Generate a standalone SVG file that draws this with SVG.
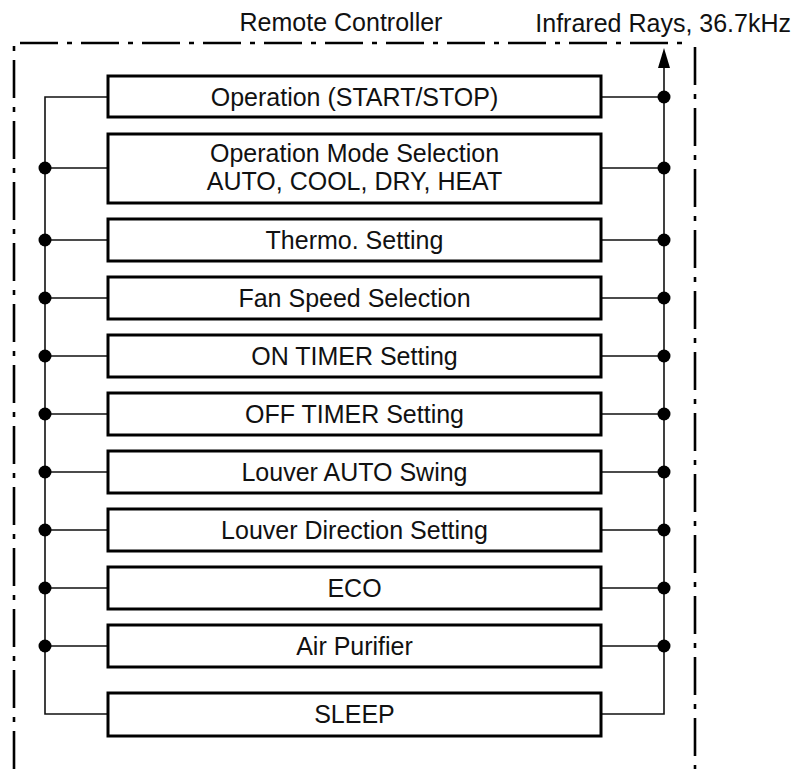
<svg xmlns="http://www.w3.org/2000/svg" width="800" height="769" viewBox="0 0 800 769">
<defs>
<style>
.box{fill:#fff;stroke:#000;stroke-width:3}
.lbl{font-family:"Liberation Sans",Arial,sans-serif;font-size:25px;fill:#111;text-anchor:middle}
.wire{fill:none;stroke:#111;stroke-width:1.6}
.dot{fill:#000}
.border{fill:none;stroke:#000;stroke-width:2.6;stroke-dasharray:38 9 5 9}
</style>
</defs>
<rect width="800" height="769" fill="#fff"/>
<g id="frame">
<path class="border" d="M14,769 V43 H691"/>
<path class="border" d="M695,47 V769"/>
<text class="lbl" x="341" y="31">Remote Controller</text>
<text class="lbl" x="791" y="32" style="text-anchor:end">Infrared Rays, 36.7kHz</text>
</g>
<g id="connectors">
<path class="wire" d="M108,97 H45 V714 H108"/>
<path class="wire" d="M601,714 H664 V68"/>
<path d="M664,48 L670,68 L658,68 Z" fill="#000"/>
<path class="wire" d="M601,97 H664 M45,168 H108 M601,168 H664 M45,240 H108 M601,240 H664 M45,298 H108 M601,298 H664 M45,356 H108 M601,356 H664 M45,414 H108 M601,414 H664 M45,472 H108 M601,472 H664 M45,530 H108 M601,530 H664 M45,588 H108 M601,588 H664 M45,646 H108 M601,646 H664"/>
<circle class="dot" cx="664" cy="97" r="6.5"/>
<circle class="dot" cx="45" cy="168" r="6.5"/><circle class="dot" cx="664" cy="168" r="6.5"/>
<circle class="dot" cx="45" cy="240" r="6.5"/><circle class="dot" cx="664" cy="240" r="6.5"/>
<circle class="dot" cx="45" cy="298" r="6.5"/><circle class="dot" cx="664" cy="298" r="6.5"/>
<circle class="dot" cx="45" cy="356" r="6.5"/><circle class="dot" cx="664" cy="356" r="6.5"/>
<circle class="dot" cx="45" cy="414" r="6.5"/><circle class="dot" cx="664" cy="414" r="6.5"/>
<circle class="dot" cx="45" cy="472" r="6.5"/><circle class="dot" cx="664" cy="472" r="6.5"/>
<circle class="dot" cx="45" cy="530" r="6.5"/><circle class="dot" cx="664" cy="530" r="6.5"/>
<circle class="dot" cx="45" cy="588" r="6.5"/><circle class="dot" cx="664" cy="588" r="6.5"/>
<circle class="dot" cx="45" cy="646" r="6.5"/><circle class="dot" cx="664" cy="646" r="6.5"/>
</g>
<g id="n1"><rect class="box" x="108" y="76" width="493" height="41"/><text class="lbl" x="354.5" y="105.5">Operation (START/STOP)</text></g>
<g id="n2"><rect class="box" x="108" y="134" width="493" height="69"/><text class="lbl" x="354.5" y="162">Operation Mode Selection</text><text class="lbl" x="354.5" y="190">AUTO, COOL, DRY, HEAT</text></g>
<g id="n3"><rect class="box" x="108" y="219" width="493" height="42"/><text class="lbl" x="354.5" y="249">Thermo. Setting</text></g>
<g id="n4"><rect class="box" x="108" y="277" width="493" height="42"/><text class="lbl" x="354.5" y="307">Fan Speed Selection</text></g>
<g id="n5"><rect class="box" x="108" y="335" width="493" height="42"/><text class="lbl" x="354.5" y="365">ON TIMER Setting</text></g>
<g id="n6"><rect class="box" x="108" y="393" width="493" height="42"/><text class="lbl" x="354.5" y="423">OFF TIMER Setting</text></g>
<g id="n7"><rect class="box" x="108" y="451" width="493" height="42"/><text class="lbl" x="354.5" y="481">Louver AUTO Swing</text></g>
<g id="n8"><rect class="box" x="108" y="509" width="493" height="42"/><text class="lbl" x="354.5" y="539">Louver Direction Setting</text></g>
<g id="n9"><rect class="box" x="108" y="567" width="493" height="42"/><text class="lbl" x="354.5" y="597">ECO</text></g>
<g id="n10"><rect class="box" x="108" y="625" width="493" height="42"/><text class="lbl" x="354.5" y="655">Air Purifier</text></g>
<g id="n11"><rect class="box" x="108" y="693" width="493" height="43"/><text class="lbl" x="354.5" y="723">SLEEP</text></g>
</svg>
